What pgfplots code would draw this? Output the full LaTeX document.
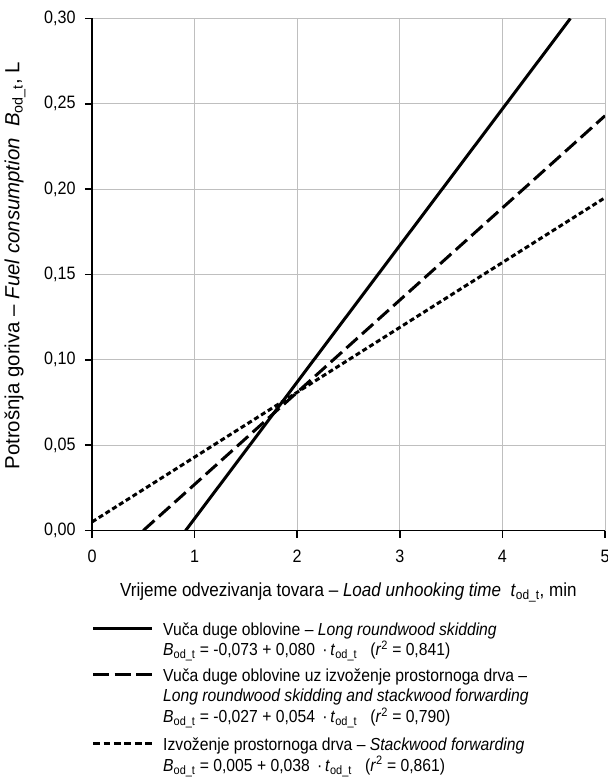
\documentclass[border=0pt]{standalone}
\usepackage{fontspec}
\setmainfont{Liberation Sans}[FakeStretch=0.9]
\newfontfamily\widefont{Liberation Sans}
\usepackage{pgfplots}
\pgfplotsset{compat=1.18}
\newcommand{\sub}[1]{\textsubscript{#1}}
\newcommand{\solidsample}{\rule[5.5bp]{59bp}{3bp}}
\newcommand{\dsh}{\rule[5.5bp]{16bp}{3bp}}
\newcommand{\dashsample}{\dsh\hspace{5.5bp}\dsh\hspace{5.5bp}\dsh}
\newcommand{\dt}{\rule[5.5bp]{6.8bp}{3bp}}
\newcommand{\dotsample}{\dt\hspace{3.6bp}\dt\hspace{3.6bp}\dt\hspace{3.6bp}\dt\hspace{3.6bp}\dt\hspace{3.6bp}\dt}
\begin{document}
\fontsize{16}{18}\selectfont
\begin{tikzpicture}
\useasboundingbox (-92bp,-249.5bp) rectangle (516bp,530.5bp);
\begin{axis}[
  name=ax,
  at={(0,0)}, anchor=origin,
  scale only axis, width=513bp, height=512bp,
  xmin=0, xmax=5, ymin=0, ymax=0.30,
  xtick={0,1,2,3,4,5},
  ytick={0,0.05,0.10,0.15,0.20,0.25,0.30},
  axis x line*=bottom, axis y line*=left,
  axis line style={-, line width=1.6bp},
  grid=major, major grid style={black!25, line width=0.8bp},
  tick align=outside, major tick length=7bp,
  tick style={black, line width=1.6bp},
  ticklabel style={font=\fontsize{18}{20}\selectfont},
  /pgf/number format/assume math mode=true,
  yticklabel style={xshift=-4bp, /pgf/number format/.cd, fixed, fixed zerofill, precision=2, use comma},
  xticklabel style={yshift=-7bp, /pgf/number format/.cd, fixed, precision=0},
  xlabel={Vrijeme odvezivanja tovara – \textit{Load unhooking time}\ \ \textit{t}\sub{od\_t}, min},
  xlabel style={font=\fontsize{19}{21}\selectfont, at={(axis description cs:0.4998,-0.128)}, anchor=base},
  ylabel={Potrošnja goriva – \textit{Fuel consumption}\ \ \textit{B}\sub{od\_t}, L},
  ylabel style={font=\widefont\fontsize{20.5}{22}\selectfont, at={(axis description cs:-0.150,0.517)}, anchor=center},
]
\addplot[black, line width=3bp] coordinates {(0.9125,0) (4.6625,0.30)};
\addplot[black, line width=3bp, dash pattern=on 15bp off 6bp] coordinates {(0.5,0) (5,0.243)};
\addplot[black, line width=3bp, dash pattern=on 5bp off 3bp] coordinates {(0,0.005) (5,0.195)};
\end{axis}
\node[anchor=north west, inner sep=0pt, font=\fontsize{17.5}{20}\selectfont] at (1bp,-90.5bp) {%
\begin{tabular}{@{}l@{\hspace{11bp}}l@{}}
\solidsample & Vuča duge oblovine – \textit{Long roundwood skidding}\\
 & \textit{B}\sub{od\_t} = -0,073 + 0,080 \,·\,\textit{t}\sub{od\_t}\ \ \ (\textit{r}\textsuperscript{2} = 0,841)\\[6bp]
\dashsample & Vuča duge oblovine uz izvoženje prostornoga drva –\\
 & \textit{Long roundwood skidding and stackwood forwarding}\\
 & \textit{B}\sub{od\_t} = -0,027 + 0,054 \,·\,\textit{t}\sub{od\_t}\ \ \ (\textit{r}\textsuperscript{2} = 0,790)\\[8bp]
\dotsample & Izvoženje prostornoga drva – \textit{Stackwood forwarding}\\
 & \textit{B}\sub{od\_t} = 0,005 + 0,038 \,·\,\textit{t}\sub{od\_t}\ \ \ (\textit{r}\textsuperscript{2} = 0,861)
\end{tabular}};
\end{tikzpicture}
\end{document}
